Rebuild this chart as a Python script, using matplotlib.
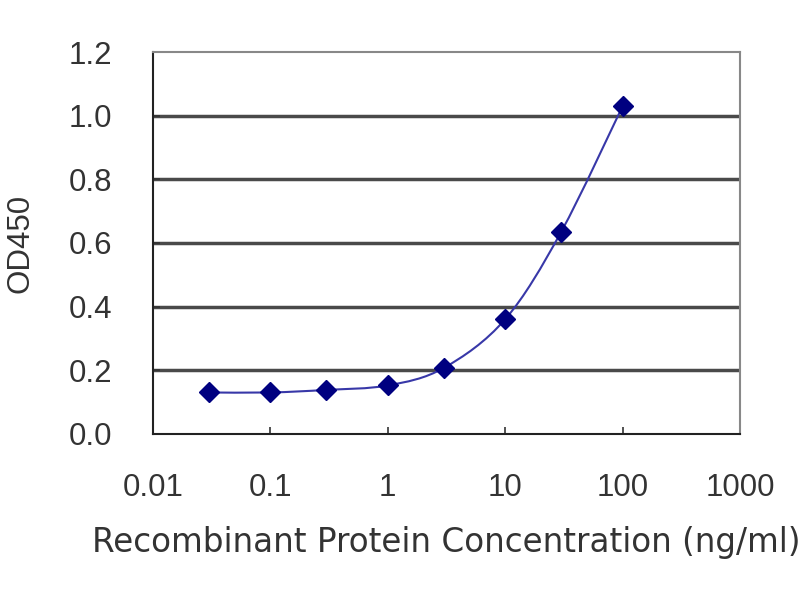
import numpy as np
import matplotlib.pyplot as plt
from matplotlib.path import Path
from matplotlib.patches import PathPatch

plt.rcParams['font.family'] = ['Liberation Sans', 'DejaVu Sans']

conc = [0.03, 0.1, 0.3, 1, 3, 10, 30, 100]
od450 = [0.13, 0.13, 0.138, 0.152, 0.207, 0.36, 0.635, 1.03]
xticks = [0.01, 0.1, 1, 10, 100, 1000]
xticklabels = ['0.01', '0.1', '1', '10', '100', '1000']
yticks = [0.0, 0.2, 0.4, 0.6, 0.8, 1.0, 1.2]

navy = '#000080'
text_col = '#333333'

fig = plt.figure(figsize=(8, 6), dpi=100)
ax = fig.add_axes([0.191, 0.277, 0.734, 0.636])
ax.set_xscale('log')
ax.set_xlim(0.01, 1000)
ax.set_ylim(0, 1.2)

# horizontal grid
for y in yticks[1:-1]:
    ax.axhline(y, color='#4a4a4a', lw=2.5, zorder=1)

# smoothed line (excel style), catmull-rom in log-x space
lx = np.log10(conc)
ly = np.array(od450)
verts = [(conc[0], od450[0])]
codes = [Path.MOVETO]
n = len(lx)
for i in range(n - 1):
    p0 = i - 1 if i > 0 else i
    p3 = i + 2 if i + 2 < n else i + 1
    c1x = lx[i] + (lx[i + 1] - lx[p0]) / 6
    c1y = ly[i] + (ly[i + 1] - ly[p0]) / 6
    c2x = lx[i + 1] - (lx[p3] - lx[i]) / 6
    c2y = ly[i + 1] - (ly[p3] - ly[i]) / 6
    verts += [(10 ** c1x, c1y), (10 ** c2x, c2y), (conc[i + 1], od450[i + 1])]
    codes += [Path.CURVE4] * 3
ax.add_patch(PathPatch(Path(verts, codes), fill=False, edgecolor='#3838a8',
                       lw=1.5, zorder=2))

ax.plot(conc, od450, linestyle='none', marker='D', markersize=10,
        color=navy, zorder=3)

ax.set_xticks(xticks)
ax.set_xticklabels(xticklabels)
ax.minorticks_off()
ax.set_yticks(yticks)
ax.set_yticklabels(['%.1f' % v for v in yticks])
ax.tick_params(direction='in', length=5, width=1.2, colors='#333333',
               labelsize=22.5)
ax.tick_params(axis='y', pad=29)
ax.tick_params(axis='x', pad=28)

for side in ['left', 'bottom']:
    ax.spines[side].set_color('#222222')
    ax.spines[side].set_linewidth(1.5)
for side in ['top', 'right']:
    ax.spines[side].set_color('#888888')
    ax.spines[side].set_linewidth(1.5)

ax.set_xlabel('Recombinant Protein Concentration (ng/ml)', fontsize=23.5,
              family='DejaVu Sans', color=text_col, labelpad=17)
ax.set_ylabel('OD450', fontsize=22.5, color=text_col, labelpad=24)

fig.savefig('out.png', dpi=100)
